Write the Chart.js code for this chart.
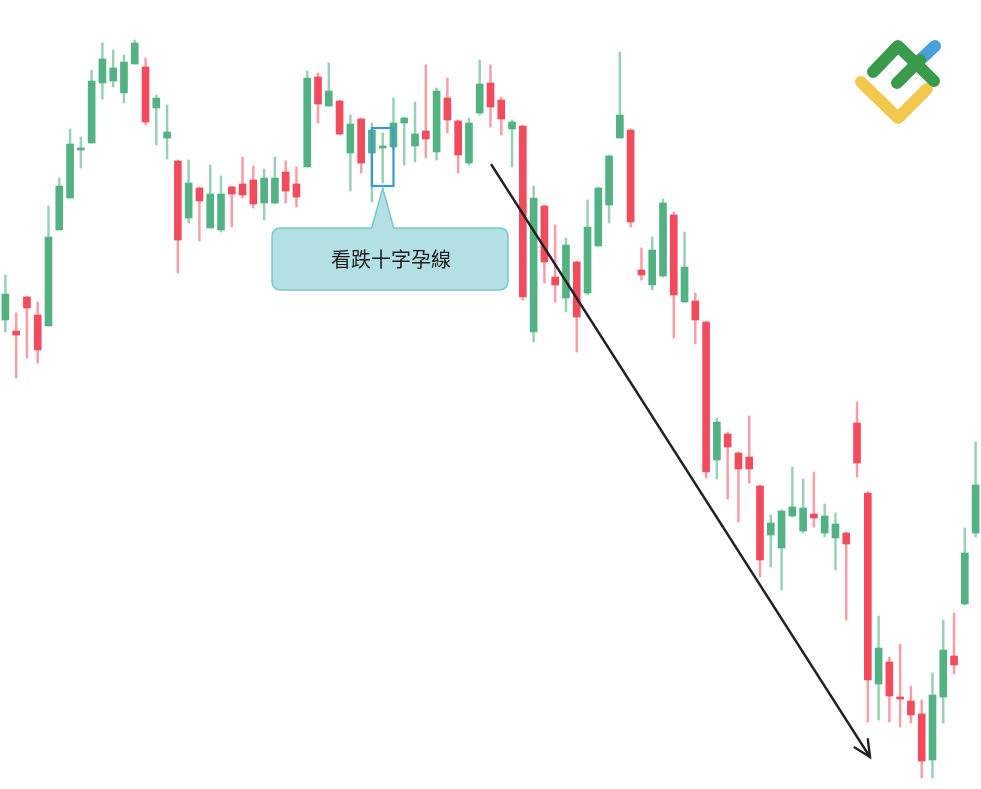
<!DOCTYPE html>
<html>
<head>
<meta charset="utf-8">
<script src="https://cdn.jsdelivr.net/npm/chart.js@4/dist/chart.umd.min.js"></script>
<style>
  html, body { margin:0; padding:0; background:#fff; }
  #wrap { width:981px; height:789px; position:relative; }
</style>
</head>
<body>
<div id="wrap"><canvas id="c"></canvas></div>
<script>
// levels (axis is inverted: smaller = higher on screen)
const opens  = [320,331,297,315,326,230,198,150,143,83,81,93,64,67,108,138,161,218,188,228,230,187,184,180,203,203,172,184,167,77,106,101,153,119,153,147,147,123,146,131,152,98,121,163,113,83,100,129,126,332,206,277,298,262,293,246,205,138,130,270,285,276,215,302,301,322,460,434,453,457,486,535,548,516,531,514,533,538,533,423,493,684,662,697,701,714,760,697,656,604,533];
const highs  = [275,313,296,302,206,178,129,137,70,43,50,55,40,58,95,105,160,160,187,165,176,186,157,166,169,157,161,167,71,73,63,100,115,118,123,133,98,117,102,65,88,78,120,118,60,65,97,120,125,186,205,225,238,261,200,187,155,52,129,248,237,199,212,232,293,321,418,432,452,416,485,515,510,467,479,472,504,513,532,402,492,616,657,644,686,700,673,620,613,528,442];
const lows   = [332,378,358,363,326,230,198,168,143,99,87,103,64,125,145,159,273,223,241,228,232,227,198,208,220,204,203,207,167,123,106,135,191,173,202,183,150,165,162,158,160,133,173,165,115,127,135,167,300,342,283,302,312,352,295,246,223,138,227,280,290,277,338,302,344,478,479,499,522,483,577,567,590,517,533,527,537,570,620,477,722,720,722,727,723,778,778,723,674,605,537];
const closes = [294,335,308,350,237,186,144,148,81,59,68,62,43,122,98,132,240,183,201,194,194,194,195,204,178,178,191,197,78,104,91,134,124,163,130,146,123,118,134,139,91,120,155,123,84,107,119,122,297,198,262,285,245,317,227,188,156,115,222,275,250,203,295,267,320,472,422,447,469,469,560,523,511,507,508,518,516,524,544,463,680,648,696,698,715,761,695,650,665,553,485];
const labels = opens.map((_, i) => String(i + 1));

const calloutText = '看跌十字孕線';
const markedCandle = 35;      // the doji inside the blue box
const arrowFrom = [45.1, 165];
const arrowTo   = [80.2, 757];

const GREEN = '#52b283', RED = '#f24b5d';
const GREEN_WICK = 'rgba(82,178,131,0.6)', RED_WICK = 'rgba(242,75,93,0.55)';
const up = closes.map((c, i) => c <= opens[i]);

const overlay = {
  id: 'overlay',
  afterDraw(chart){
    const ctx = chart.ctx, x = chart.scales.x, y = chart.scales.y;
    ctx.save();
    // blue box around the doji
    const bx0 = x.getPixelForValue(markedCandle - 1), bx1 = x.getPixelForValue(markedCandle + 1);
    const by0 = y.getPixelForValue(128), by1 = y.getPixelForValue(186);
    ctx.strokeStyle = '#3b98d8'; ctx.lineWidth = 2.2;
    ctx.strokeRect(bx0, by0, bx1 - bx0, by1 - by0);

    // callout bubble
    const cx = (bx0 + bx1) / 2;
    const left = 272, top = 228, w = 236, h = 62, r = 9;
    ctx.beginPath();
    ctx.moveTo(left + r, top);
    ctx.lineTo(cx - 11, top);
    ctx.lineTo(cx, by1 + 2);
    ctx.lineTo(cx + 11, top);
    ctx.lineTo(left + w - r, top);
    ctx.quadraticCurveTo(left + w, top, left + w, top + r);
    ctx.lineTo(left + w, top + h - r);
    ctx.quadraticCurveTo(left + w, top + h, left + w - r, top + h);
    ctx.lineTo(left + r, top + h);
    ctx.quadraticCurveTo(left, top + h, left, top + h - r);
    ctx.lineTo(left, top + r);
    ctx.quadraticCurveTo(left, top, left + r, top);
    ctx.closePath();
    ctx.fillStyle = '#b3e0e4'; ctx.fill();
    ctx.strokeStyle = '#7cc6cd'; ctx.lineWidth = 1.5; ctx.stroke();
    ctx.fillStyle = '#1c1c1c';
    ctx.font = '20px "Noto Sans CJK TC", "Noto Sans CJK SC", sans-serif';
    ctx.textAlign = 'center'; ctx.textBaseline = 'middle';
    ctx.fillText(calloutText, left + w / 2 + 1, top + h / 2);

    // trend arrow
    const ax0 = x.getPixelForValue(arrowFrom[0]), ay0 = y.getPixelForValue(arrowFrom[1]);
    const ax1 = x.getPixelForValue(arrowTo[0]),   ay1 = y.getPixelForValue(arrowTo[1]);
    ctx.strokeStyle = '#222'; ctx.lineWidth = 2.4; ctx.lineCap = 'round';
    ctx.beginPath(); ctx.moveTo(ax0, ay0); ctx.lineTo(ax1, ay1); ctx.stroke();
    const ang = Math.atan2(ay1 - ay0, ax1 - ax0), hl = 18;
    ctx.beginPath();
    ctx.moveTo(ax1 - hl * Math.cos(ang - 0.45), ay1 - hl * Math.sin(ang - 0.45));
    ctx.lineTo(ax1, ay1);
    ctx.lineTo(ax1 - hl * Math.cos(ang + 0.45), ay1 - hl * Math.sin(ang + 0.45));
    ctx.stroke();

    // logo
    ctx.lineCap = 'round'; ctx.lineJoin = 'round'; ctx.lineWidth = 12;
    ctx.strokeStyle = '#f2c94c';
    ctx.beginPath(); ctx.moveTo(861, 82); ctx.lineTo(898, 118); ctx.lineTo(927, 89); ctx.stroke();
    ctx.strokeStyle = '#4a9fdf';
    ctx.beginPath(); ctx.moveTo(919, 61); ctx.lineTo(935, 46); ctx.stroke();
    ctx.strokeStyle = '#3a9a4b';
    ctx.beginPath(); ctx.moveTo(873, 72); ctx.lineTo(898, 46); ctx.lineTo(934, 81); ctx.stroke();
    ctx.beginPath(); ctx.moveTo(897, 83); ctx.lineTo(920, 60); ctx.stroke();
    ctx.restore();
  }
};

new Chart(document.getElementById('c'), {
  type: 'bar',
  data: {
    labels,
    datasets: [
      { label:'body', data: opens.map((o, i) => [o, closes[i]]), backgroundColor: up.map(u => u ? GREEN : RED),
        barThickness: 7, minBarLength: 2, grouped: false, order: 0 },
      { label:'wick', data: lows.map((l, i) => [highs[i], l]), backgroundColor: up.map(u => u ? GREEN_WICK : RED_WICK),
        barThickness: 1.8, grouped: false, order: 1 }
    ]
  },
  options: {
    responsive: true, maintainAspectRatio: false, animation: false,
    layout: { padding: 0 },
    plugins: { legend: { display:false }, tooltip: { enabled:false } },
    scales: {
      x: { display:false, offset:true },
      y: { display:false, reverse:true, min:0, max:789 }
    }
  },
  plugins: [overlay]
});
</script>
</body>
</html>
